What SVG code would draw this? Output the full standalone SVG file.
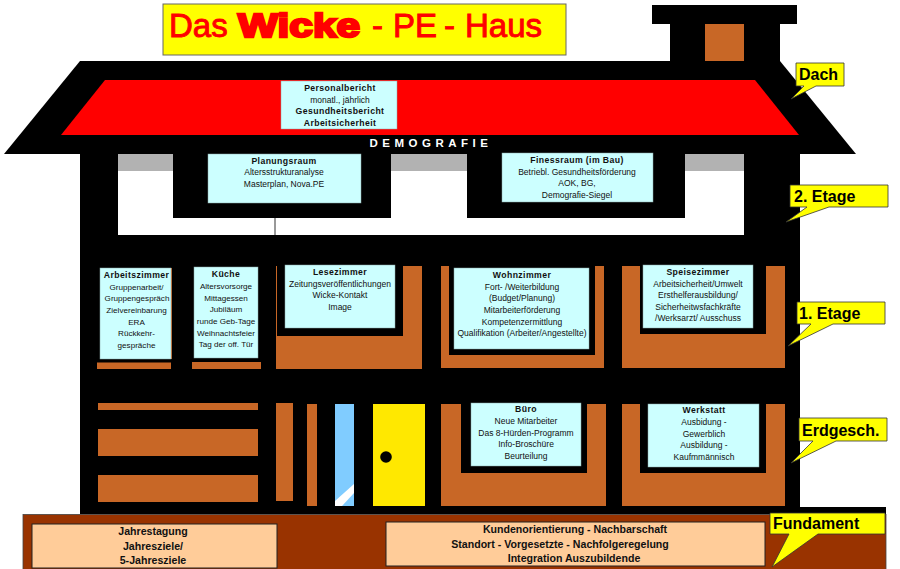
<svg xmlns="http://www.w3.org/2000/svg" width="900" height="569" viewBox="0 0 900 569">
<style>
text{font-family:"Liberation Sans",Arial,sans-serif;text-anchor:middle;fill:#111}
.r{font-size:8.5px}
#kueche .r,#arbeitszimmer .r{font-size:8.1px}
.b{font-size:8.7px;font-weight:bold;letter-spacing:.4px}
.f{font-size:10.6px;font-weight:bold}
.c{font-size:16px;font-weight:bold;text-anchor:start;fill:#000}
.cy{fill:#ccffff;stroke:#8aa8a8;stroke-width:.5}
.br{fill:#c86726}
.k{fill:#000}
.cal{fill:#ffff00;stroke:#333;stroke-width:.8}
.sand{fill:#ffcc99;stroke:#222;stroke-width:1}
</style>
<rect width="900" height="569" fill="#fff"/>
<g id="title"><rect x="163" y="4" width="403" height="51" fill="#ffff00" stroke="#666" stroke-width="1"/>
<text y="37" font-size="33" stroke="#f00" stroke-width=".9" style="text-anchor:start;fill:#f00"><tspan x="169">Das</tspan><tspan x="238" font-weight="bold" stroke-width="2.400" textLength="122" lengthAdjust="spacingAndGlyphs">Wicke</tspan><tspan x="372">-</tspan><tspan x="393">PE</tspan><tspan x="444">-</tspan><tspan x="465">Haus</tspan></text></g>
<g id="house-structure">
<rect class="k" x="652" y="5" width="145" height="19"/>
<rect class="k" x="670" y="24" width="110" height="40"/>
<rect class="br" x="705" y="24" width="39" height="37"/>
<polygon class="k" points="80,61 780,61 856,154 4,154"/>
<rect class="k" x="80" y="154" width="720" height="360"/>
<rect class="k" x="800" y="507" width="86" height="8"/>
<polygon fill="#f00" points="105,80 755,80 799,135 61,135"/>
<rect x="118" y="154" width="626" height="81" fill="#fff"/>
<rect x="118" y="154" width="626" height="17" fill="#b2b2b2"/>
<rect class="k" x="173" y="154" width="218" height="64"/>
<rect class="k" x="467" y="154" width="218" height="64"/>
<line x1="275" y1="218" x2="275" y2="235" stroke="#333" stroke-width="1"/>
<text x="431" y="147" font-size="11.5" font-weight="bold" letter-spacing="4.500" style="fill:#fff">DEMOGRAFIE</text>
</g>
<g id="dach-raum"><rect class="cy" x="281" y="81" width="116" height="48"/>
<text class="b" x="340" y="91">Personalbericht</text><text class="r" x="340" y="102.500">monatl., jährlich</text><text class="b" x="340" y="114">Gesundheitsbericht</text><text class="b" x="340" y="125.500">Arbeitsicherheit</text></g>
<g id="planungsraum"><rect class="cy" x="208" y="154" width="153" height="49"/>
<text class="b" x="284" y="164">Planungsraum</text><text class="r" x="284" y="175">Altersstrukturanalyse</text><text class="r" x="284" y="187">Masterplan, Nova.PE</text></g>
<g id="finessraum"><rect class="cy" x="502" y="153" width="151" height="49"/>
<text class="b" x="577" y="163">Finessraum (im Bau)</text><text class="r" x="577" y="174.500">Betriebl. Gesundheitsförderung</text><text class="r" x="577" y="186">AOK, BG,</text><text class="r" x="577" y="198">Demografie-Siegel</text></g>
<g id="arbeitszimmer"><rect class="br" x="97" y="362.500" width="74" height="6.500"/><rect class="br" x="170" y="268" width="2" height="91"/><rect class="cy" x="100" y="268" width="71" height="91"/>
<text class="b" x="136.500" y="278">Arbeitszimmer</text><text class="r" x="136.500" y="290">Gruppenarbeit/</text><text class="r" x="137" y="301">Gruppengespräch</text><text class="r" x="136.500" y="313">Zielvereinbarung</text><text class="r" x="136.500" y="325">ERA</text><text class="r" x="136.500" y="336">Rückkehr-</text><text class="r" x="136.500" y="348">gespräche</text></g>
<g id="kueche"><rect class="br" x="192" y="362" width="69" height="7"/><rect class="cy" x="194" y="267" width="64" height="91"/>
<text class="b" x="226" y="277">Küche</text><text class="r" x="226" y="289">Altersvorsorge</text><text class="r" x="226" y="301">Mittagessen</text><text class="r" x="226" y="312">Jubiläum</text><text class="r" x="226" y="324">runde Geb-Tage</text><text class="r" x="226" y="336">Weihnachtsfeier</text><text class="r" x="226" y="347">Tag der off. Tür</text></g>
<g id="lesezimmer"><rect class="br" x="276" y="266" width="146" height="103"/><rect class="k" x="277" y="264" width="126" height="72"/><rect class="cy" x="285" y="265" width="110" height="63"/>
<text class="b" x="340" y="275">Lesezimmer</text><text class="r" x="340" y="287">Zeitungsveröffentlichungen</text><text class="r" x="340" y="298">Wicke-Kontakt</text><text class="r" x="340" y="310">Image</text></g>
<g id="wohnzimmer"><rect class="br" x="441" y="266" width="163" height="102"/><rect class="k" x="449" y="264" width="146" height="91"/><rect class="cy" x="454" y="268" width="135" height="81"/>
<text class="b" x="522" y="278">Wohnzimmer</text><text class="r" x="522" y="289.500">Fort- /Weiterbildung</text><text class="r" x="522" y="301">(Budget/Planung)</text><text class="r" x="522" y="312.500">Mitarbeiterförderung</text><text class="r" x="522" y="324.500">Kompetenzermittlung</text><text class="r" x="522" y="336">Qualifikation (Arbeiter/Angestellte)</text></g>
<g id="speisezimmer"><rect class="br" x="622" y="266" width="163" height="102"/><rect class="k" x="640" y="264" width="126" height="70"/><rect class="cy" x="643" y="265" width="110" height="63"/>
<text class="b" x="698" y="275">Speisezimmer</text><text class="r" x="698" y="287">Arbeitsicherheit/Umwelt</text><text class="r" x="698" y="298">Ersthelferausbildung/</text><text class="r" x="698" y="310">Sicherheitwsfachkräfte</text><text class="r" x="698" y="321">/Werksarzt/ Ausschuss</text></g>
<g id="erdgeschoss-fassade">
<rect class="br" x="98" y="403" width="160" height="7"/><rect class="br" x="98" y="429" width="160" height="27"/><rect class="br" x="98" y="475" width="160" height="27"/>
<rect class="br" x="276" y="403" width="17" height="98"/><rect class="br" x="307" y="404" width="10" height="102"/>
<rect x="335" y="404" width="19" height="102" fill="#80ccff"/><polygon fill="#fff" points="354,484 354,493 342,506 335,506 335,501"/>
<rect x="373" y="404" width="52" height="102" fill="#ffe800"/><circle class="k" cx="386" cy="457" r="5.800"/></g>
<g id="buero"><rect class="br" x="441" y="404" width="165" height="102"/><rect class="k" x="461" y="402" width="126" height="71"/><rect class="cy" x="471" y="403" width="110" height="63"/>
<text class="b" x="526" y="412">Büro</text><text class="r" x="526" y="424">Neue Mitarbeiter</text><text class="r" x="526" y="435.500">Das 8-Hürden-Programm</text><text class="r" x="526" y="447">Info-Broschüre</text><text class="r" x="526" y="459">Beurteilung</text></g>
<g id="werkstatt"><rect class="br" x="622" y="404" width="163" height="102"/><rect class="k" x="640" y="402" width="126" height="71"/><rect class="cy" x="648" y="404" width="111" height="63"/>
<text class="b" x="704" y="413">Werkstatt</text><text class="r" x="704" y="425">Ausbidung -</text><text class="r" x="704" y="436.500">Gewerblich</text><text class="r" x="704" y="448">Ausbildung -</text><text class="r" x="704" y="460">Kaufmmännisch</text></g>
<g id="fundament"><rect x="23" y="514.500" width="863" height="55" fill="#993300" stroke="#444" stroke-width=".8"/>
<rect class="sand" x="32" y="524" width="245" height="44"/>
<text class="f" x="153" y="535">Jahrestagung</text><text class="f" x="153" y="549.500">Jahresziele/</text><text class="f" x="153" y="564">5-Jahresziele</text>
<rect class="sand" x="386" y="522" width="379" height="44"/>
<text class="f" x="575" y="533">Kundenorientierung - Nachbarschaft</text><text class="f" x="560" y="547.500">Standort - Vorgesetzte - Nachfolgeregelung</text><text class="f" x="574" y="561.500">Integration Auszubildende</text></g>
<g id="callouts">
<g id="label-dach"><polygon class="cal" points="796,63 844,63 844,86 816,86 791,99 804,86 796,86"/><text class="c" x="799" y="80">Dach</text></g>
<g id="label-2-etage"><polygon class="cal" points="790,185 888,185 888,207 829,207 786,222 807,207 790,207"/><text class="c" x="794" y="202">2. Etage</text></g>
<g id="label-1-etage"><polygon class="cal" points="797,302 885,302 885,324 833,324 788,346 811,324 797,324"/><text class="c" x="799" y="319">1. Etage</text></g>
<g id="label-erdgesch"><polygon class="cal" points="799,418 887,418 887,441 836,441 791,463 813,441 799,441"/><text class="c" x="802" y="436">Erdgesch.</text></g>
<g id="label-fundament"><polygon class="cal" points="770,513 885,513 885,534 818,534 772,567 789,534 770,534"/><text class="c" x="773" y="529">Fundament</text></g>
</g>
</svg>
